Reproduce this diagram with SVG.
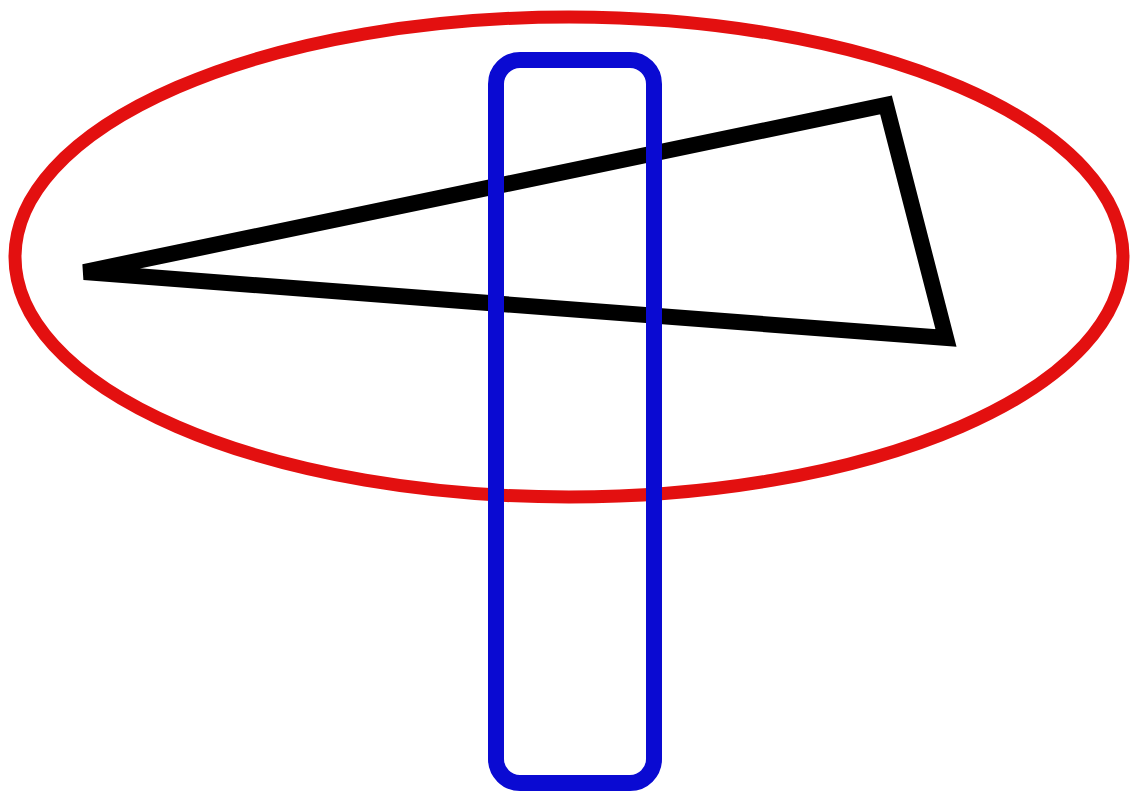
<svg xmlns="http://www.w3.org/2000/svg" width="1136" height="792" viewBox="0 0 1136 792">
  <style>
    .shape { fill: none; }
  </style>
  <rect x="0" y="0" width="1136" height="792" fill="#ffffff"/>
  <g id="ellipse">
    <ellipse class="shape" cx="569" cy="257" rx="554" ry="240" stroke="#e31010" stroke-width="13"/>
  </g>
  <g id="triangle">
    <polygon class="shape" points="84,272 886,105 946,338" stroke="#000000" stroke-width="16" stroke-linejoin="miter" stroke-miterlimit="4"/>
  </g>
  <g id="bar">
    <rect class="shape" x="496" y="60" width="158" height="723" rx="24" ry="24" stroke="#0a0ad2" stroke-width="16"/>
  </g>
</svg>
